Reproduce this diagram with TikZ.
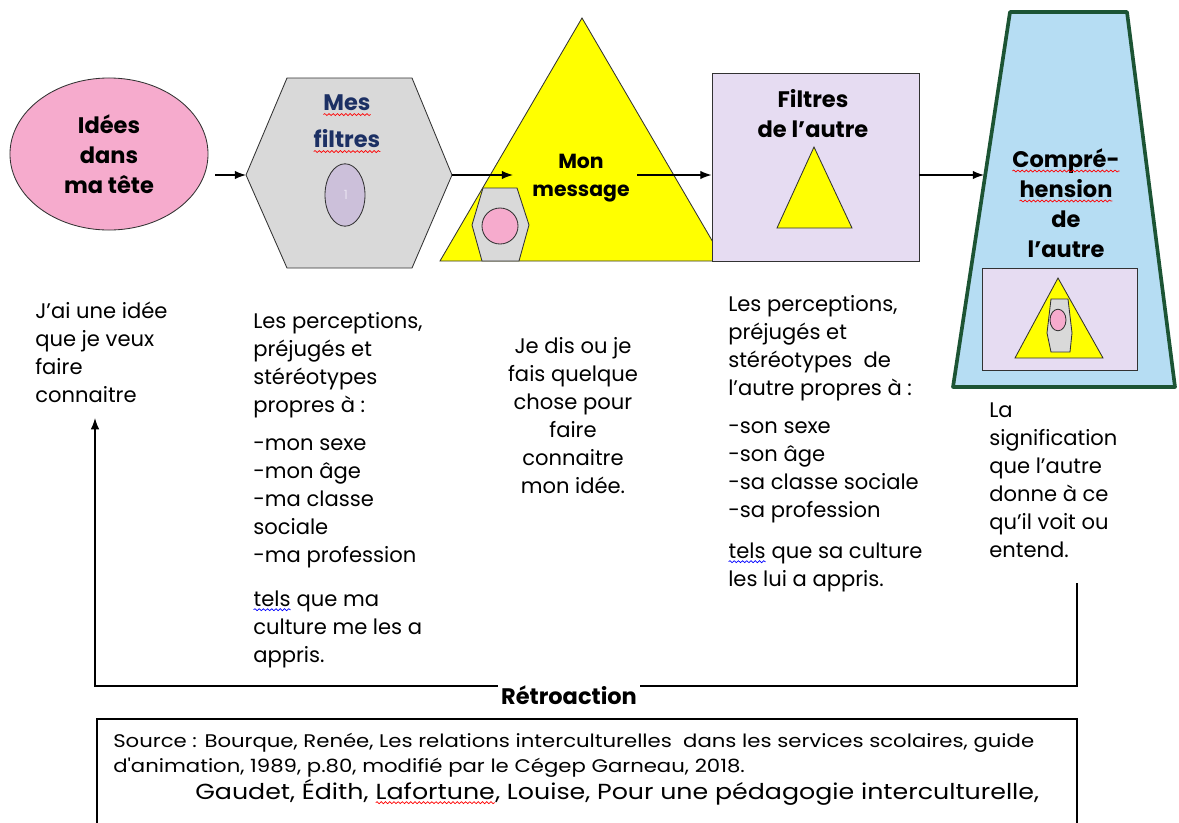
\documentclass[tikz,border=0pt]{standalone}
\usepackage{fontspec}
\setmainfont{Poppins}
\newfontfamily\sourcefont[FakeStretch=1.16]{Poppins}
\usetikzlibrary{shapes.geometric,decorations.pathmorphing,arrows.meta}

\definecolor{rose}{RGB}{246,171,205}
\definecolor{gris}{RGB}{217,217,217}
\definecolor{lavande}{RGB}{204,192,218}
\definecolor{mauve}{RGB}{230,220,242}
\definecolor{jaune}{RGB}{255,255,0}
\definecolor{ciel}{RGB}{182,221,243}
\definecolor{sapin}{RGB}{28,84,52}
\definecolor{marine}{RGB}{28,48,100}
\definecolor{trait}{RGB}{50,50,50}

% soulignement ondule (correcteur)
\newcommand{\souligne}[2]{\tikz[baseline=(m.base)]{\node[inner sep=0pt,outer sep=0pt] (m) {#2};
  \draw[#1,line width=0.5pt,decorate,decoration={snake,amplitude=0.7pt,segment length=3pt}]
    ([yshift=-2.6pt]m.base west) -- ([yshift=-2.6pt]m.base east);}}

\begin{document}
\begin{tikzpicture}[x=0.025cm,y=-0.025cm,
    fleche/.style={draw=black,line width=0.9pt,-{Latex[length=8pt,width=6pt]}},
    forme/.style={draw=trait,line width=0.6pt},
    titre/.style={font=\bfseries\fontsize{16}{21.3}\selectfont,align=center,inner sep=0pt},
    corps/.style={font=\fontsize{15}{19.9}\selectfont,align=left,inner sep=0pt,anchor=base west},
    source/.style={font=\sourcefont\fontsize{13}{17.7}\selectfont,align=left,inner sep=0pt,anchor=base west}]
    \useasboundingbox (0,0) rectangle (1179,823);

    % les formes
    \node[forme,ellipse,fill=rose,minimum width=4.95cm,minimum height=3.8cm,titre] (idees) at (109,154) {Idées\\dans\\ma tête};

    \draw[forme,fill=gris] (246,175) coordinate (hexG) -- (287,78) -- (412,78) -- (452,175) coordinate (hexD)
        -- (412,268) -- (287,268) -- cycle;
    \draw[forme,fill=lavande] (345,195) ellipse [x radius=0.5cm,y radius=0.78cm];
    \node[text={rgb,255:red,232;green,226;blue,240},font=\small] (un) at (346,195) {1};
    \node[titre,text=marine] (mesfiltres) at (347,124) {\souligne{red}{Mes}\\[5pt]\souligne{red}{filtres}};

    \draw[forme,fill=jaune] (582,18) coordinate (sommet) -- (724,261) -- (440,261) -- cycle;
    \draw[forme,fill=gris] (483,188) -- (517,188) -- (529,225) -- (519,261) -- (482,261) -- (472,225) -- cycle;
    \draw[forme,fill=rose] (500,226) circle [radius=0.45cm];
    \node[titre,font=\bfseries\fontsize{14.5}{19.5}\selectfont] (message) at (581,178) {Mon\\message};

    \node[forme,fill=mauve,minimum width=5.175cm,minimum height=4.7cm,inner sep=0pt] (autre) at (815.5,167) {};
    \draw[forme,fill=jaune] (814,147) -- (852,228) -- (777,228) -- cycle;
    \node[titre] (filtresautre) at (813,114) {Filtres\\de l’autre};

    \draw[sapin,line width=2.6pt,fill=ciel,line join=round] (1010,12) -- (1127,12) -- (1175,387) -- (953,387) -- cycle;
    \coordinate (trapG) at (984,175);
    \node[titre] (comprehension) at (1066,203) {\souligne{red}{Compré-}\\\souligne{red}{hension}\\de\\l’autre};
    \draw[forme,fill=mauve] (982,268) rectangle (1137,370);
    \draw[forme,fill=jaune] (1058,278) -- (1103,358) -- (1015,358) -- cycle;
    \draw[forme,fill=gris] (1051,299) -- (1068,299) -- (1072,333) -- (1070,352) -- (1051,352) -- (1047,333) -- cycle;
    \draw[forme,fill=rose] (1058,320) ellipse [x radius=0.2cm,y radius=0.27cm];

    % les fleches
    \coordinate (f1) at (215,175);
    \coordinate (f3) at (637,175);
    \draw[fleche] (f1) -- (hexG);
    \draw[fleche] (hexD) -- (513,175);
    \draw[fleche] (f3) -- (autre.west |- f3);
    \draw[fleche] (autre.east |- f3) -- (trapG);

    % les textes (ancre = ligne de base de la derniere ligne)
    \node[corps] (tidee) at (35,402) {J'ai une idée\\que je veux\\faire\\connaitre};
    \node[corps] (tfiltres) at (253,662) {Les perceptions,\\préjugés et\\stéréotypes\\propres à :\\[7pt]-mon sexe\\-mon âge\\-ma classe\\sociale\\-ma profession\\[11pt]\souligne{blue}{tels} que ma\\culture me les a\\appris.};
    \node[corps,align=center,anchor=base] (tmessage) at (573,493) {Je dis ou je\\fais quelque\\chose pour\\faire\\connaitre\\mon idée.};
    \node[corps] (tautre) at (728,586) {Les perceptions,\\préjugés et\\stéréotypes\ \ de\\l'autre propres à :\\[7pt]-son sexe\\-son âge\\-sa classe sociale\\-sa profession\\[9pt]\souligne{blue}{tels} que sa culture\\les lui a appris.};
    \node[corps] (tcomp) at (989,557) {La\\signification\\que l'autre\\donne à ce\\qu'il voit ou\\entend.};

    % retroaction
    \coordinate (retD) at (1077,583);
    \coordinate (retG) at (95,418);
    \draw[fleche] (retD) -- (1077,686) -- (95,686) -- (retG);
    \node[titre,fill=white,inner sep=2pt,font=\bfseries\fontsize{16}{19}\selectfont] (retro) at (569,695) {Rétroaction};

    % source
    \draw[line width=0.8pt] (97,823) -- (97,719) -- (1077,719) -- (1077,823);
    \node[source] (src) at (113,772) {Source : Bourque, Renée, Les relations interculturelles\ \ dans les services scolaires, guide\\d'animation, 1989, p.80, modifié par le Cégep Garneau, 2018.};
    \node[source,font=\sourcefont\fontsize{15.5}{18}\selectfont] (gaudet) at (195,799) {Gaudet, Édith, \souligne{red}{Lafortune}, Louise, Pour une pédagogie interculturelle,};
\end{tikzpicture}
\end{document}
